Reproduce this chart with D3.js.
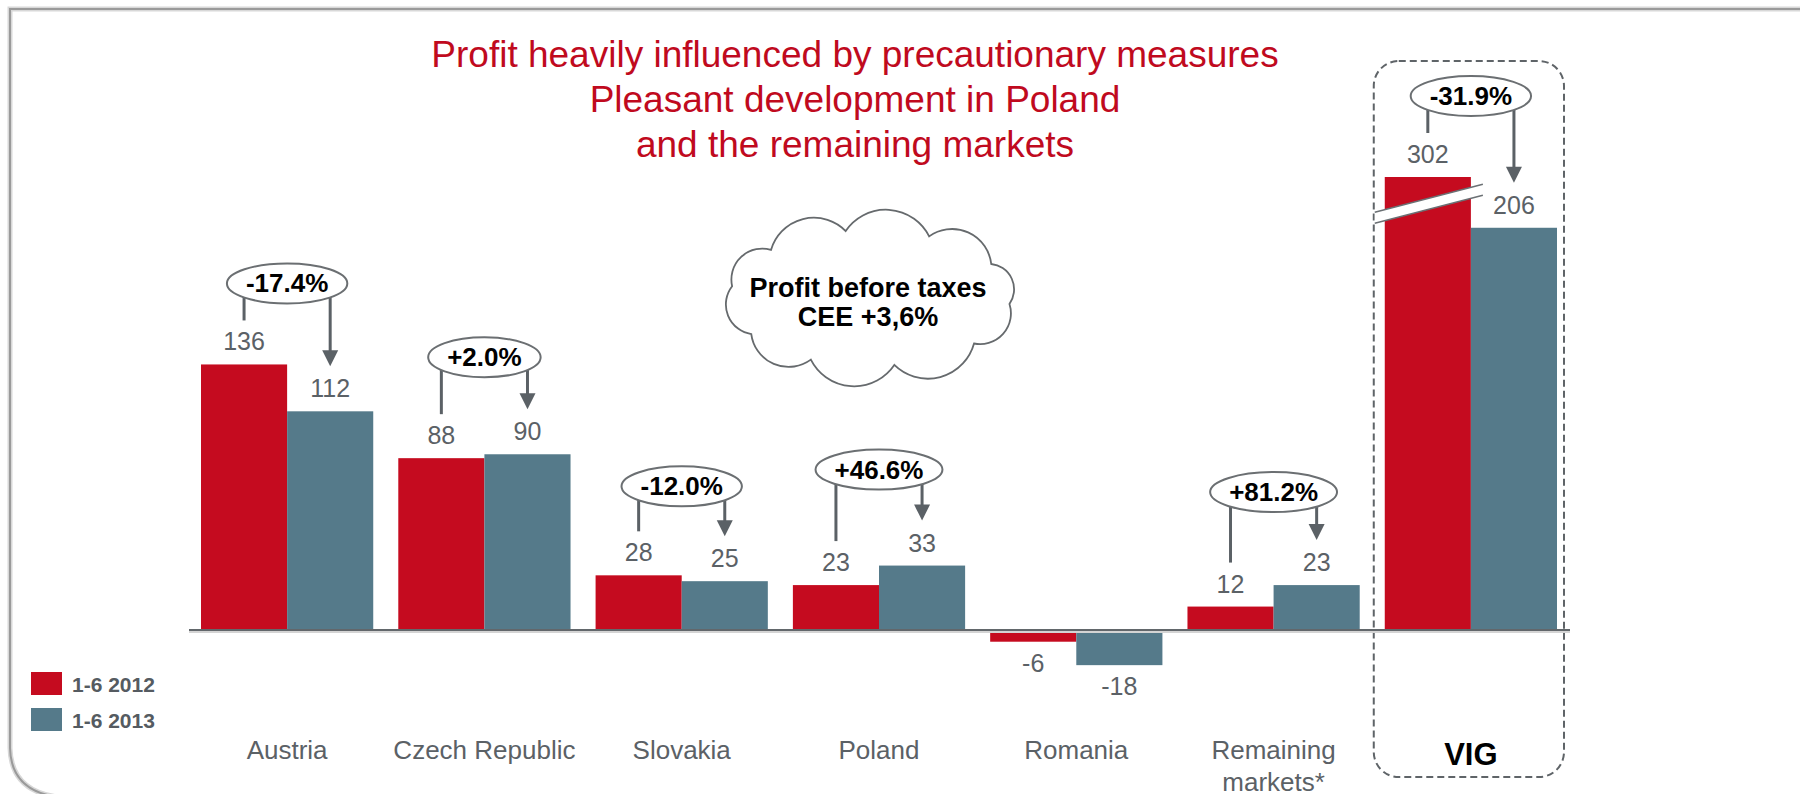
<!DOCTYPE html>
<html>
<head>
<meta charset="utf-8">
<script src="https://cdn.jsdelivr.net/npm/d3@7"></script>
<style>
  body { margin: 0; background: #fff; }
  svg { display: block; }
  text { font-family: "Liberation Sans", Arial, sans-serif; }
</style>
</head>
<body>
<svg id="chart"></svg>
<script>
// data
const categories = ["Austria", "Czech Republic", "Slovakia", "Poland", "Romania", "Remaining markets*", "VIG"];
const series = ["1-6 2012", "1-6 2013"];
const values2012 = [136, 88, 28, 23, -6, 12, 302];
const values2013 = [112, 90, 25, 33, -18, 23, 206];
const changeLabels = ["-17.4%", "+2.0%", "-12.0%", "+46.6%", null, "+81.2%", "-31.9%"];
const titleLines = ["Profit heavily influenced by precautionary measures", "Pleasant development in Poland", "and the remaining markets"];
const cloudLines = ["Profit before taxes", "CEE +3,6%"];

// layout
const width = 1800, height = 794;
const breakCap = 232;               // VIG 2012 bar is cut at this value (axis break)
const bubbleLift = [81, 97, 89, 96, 0, 93, 81];
const red = "#c50b1f", teal = "#557a8a", grey = "#5b6166";

const svg = d3.select("#chart").attr("width", width).attr("height", height);

// slide frame
svg.append("path")
  .attr("d", "M1800,9H10V748Q11,791 58,797")
  .attr("fill", "none").attr("stroke", "#d8d8d8").attr("stroke-width", 5);
svg.append("path")
  .attr("d", "M1800,9H10V748Q11,791 58,797")
  .attr("fill", "none").attr("stroke", "#9a9a9a").attr("stroke-width", 2);

// title
svg.append("g").selectAll("text").data(titleLines).join("text")
  .attr("x", 855).attr("y", (d, i) => 67 + i * 45)
  .attr("text-anchor", "middle").attr("font-size", 37).attr("fill", "#c00a1e")
  .text(d => d);

const x = d3.scaleBand().domain(categories).range([201, 1557]).paddingInner(0.127);
const x1 = d3.scaleBand().domain(series).range([0, x.bandwidth()]);
const y = d3.scaleLinear().domain([0, breakCap]).range([630, 177]);
const color = d3.scaleOrdinal().domain(series).range([red, teal]);
const shown = v => Math.min(v, breakCap);

const rows = categories.map((c, i) => ({
  cat: c, i,
  vals: [{ s: series[0], v: values2012[i] }, { s: series[1], v: values2013[i] }],
  change: changeLabels[i]
}));

// VIG dashed box
svg.append("rect")
  .attr("x", x("VIG") - 11).attr("y", 61)
  .attr("width", x.bandwidth() + 18).attr("height", 716)
  .attr("rx", 25).attr("ry", 25)
  .attr("fill", "none").attr("stroke", "#5f6468").attr("stroke-width", 2)
  .attr("stroke-dasharray", "7,4");

const groups = svg.append("g").selectAll("g").data(rows).join("g")
  .attr("transform", d => `translate(${x(d.cat)},0)`);

groups.selectAll("rect").data(d => d.vals).join("rect")
  .attr("x", d => x1(d.s))
  .attr("y", d => y(Math.max(0, shown(d.v))))
  .attr("width", x1.bandwidth())
  .attr("height", d => Math.abs(y(shown(d.v)) - y(0)))
  .attr("fill", d => color(d.s));

groups.selectAll("text.val").data(d => d.vals).join("text")
  .attr("class", "val")
  .attr("x", d => x1(d.s) + x1.bandwidth() / 2)
  .attr("y", d => d.v >= 0 ? y(shown(d.v)) - 14 : y(d.v) + 30)
  .attr("text-anchor", "middle").attr("font-size", 25).attr("fill", grey)
  .text(d => d.v);

// axis break on the VIG 2012 bar
{
  const bx = x("VIG") + x1(series[0]);
  const cx = bx + x1.bandwidth() / 2, cy = y(breakCap) + 27;
  const xa = bx - 10, xb = bx + x1.bandwidth() + 12, k = -0.26, h = 5.5;
  const ya = cy + k * (xa - cx), yb = cy + k * (xb - cx);
  svg.append("path")
    .attr("d", `M${xa},${ya - h}L${xb},${yb - h}L${xb},${yb + h}L${xa},${ya + h}Z`)
    .attr("fill", "#fff");
  [-h, h].forEach(o => svg.append("line")
    .attr("x1", xa).attr("y1", ya + o).attr("x2", xb).attr("y2", yb + o)
    .attr("stroke", "#6b7074").attr("stroke-width", 1.5));
}

// zero line
svg.append("line").attr("x1", 189).attr("x2", 1570).attr("y1", y(0) + 2).attr("y2", y(0) + 2)
  .attr("stroke", "#d4d4d4").attr("stroke-width", 2);
svg.append("line").attr("x1", 189).attr("x2", 1570).attr("y1", y(0)).attr("y2", y(0))
  .attr("stroke", "#62676b").attr("stroke-width", 2);

// change bubbles
const bub = groups.filter(d => d.change);
bub.each(function (d) {
  const g = d3.select(this);
  const t0 = y(shown(d.vals[0].v)), t1 = y(shown(d.vals[1].v));
  const cy = Math.min(t0, t1) - bubbleLift[d.i];
  const cx = x.bandwidth() / 2;
  const lx = x1(series[0]) + x1.bandwidth() / 2;
  const ax = x1(series[1]) + x1.bandwidth() / 2;
  const tip = t1 - 45;
  g.append("line").attr("x1", lx).attr("x2", lx).attr("y1", cy).attr("y2", t0 - 44)
    .attr("stroke", grey).attr("stroke-width", 3);
  g.append("line").attr("x1", ax).attr("x2", ax).attr("y1", cy).attr("y2", tip - 14)
    .attr("stroke", grey).attr("stroke-width", 3);
  g.append("path").attr("d", `M${ax - 8},${tip - 16}L${ax + 8},${tip - 16}L${ax},${tip}Z`)
    .attr("fill", grey);
  const ell = g.append("ellipse").attr("cx", cx).attr("cy", cy).attr("ry", 20)
    .attr("fill", "#fff").attr("stroke", "#6b6f72").attr("stroke-width", 2);
  const txt = g.append("text").attr("x", cx).attr("y", cy + 9)
    .attr("text-anchor", "middle").attr("font-size", 26).attr("font-weight", "bold")
    .attr("fill", "#000").text(d.change);
  ell.attr("rx", txt.node().getComputedTextLength() / 2 + 19);
});

// category labels
groups.each(function (d) {
  const g = d3.select(this);
  const isVig = d.cat === "VIG";
  const lines = d.cat === "Remaining markets*" ? ["Remaining", "markets*"] : [d.cat];
  g.selectAll("text.cat").data(lines).join("text").attr("class", "cat")
    .attr("x", x.bandwidth() / 2).attr("y", (l, j) => (isVig ? 765 : 759) + j * 32)
    .attr("text-anchor", "middle")
    .attr("font-size", isVig ? 31 : 26)
    .attr("font-weight", isVig ? "bold" : null)
    .attr("fill", isVig ? "#000" : grey)
    .text(l => l);
});

// legend
const leg = svg.append("g").selectAll("g").data(series).join("g")
  .attr("transform", (d, i) => `translate(31,${672 + i * 36})`);
leg.append("rect").attr("width", 31).attr("height", 23).attr("fill", d => color(d));
leg.append("text").attr("x", 41).attr("y", 20).attr("font-size", 21)
  .attr("font-weight", "bold").attr("fill", "#555b61").text(d => d);

// cloud callout
function cloudPath(cx, cy, rx, ry, angles) {
  const pts = angles.map(a => [cx + rx * Math.cos(a * Math.PI / 180), cy + ry * Math.sin(a * Math.PI / 180)]);
  let p = `M${pts[0][0]},${pts[0][1]}`;
  for (let i = 1; i <= pts.length; i++) {
    const a = pts[i - 1], b = pts[i % pts.length];
    const r = Math.hypot(b[0] - a[0], b[1] - a[1]) * 0.58;
    p += `A${r},${r} 0 0 1 ${b[0]},${b[1]}`;
  }
  return p + "Z";
}
svg.append("path")
  .attr("d", cloudPath(870, 298, 140, 68, [-170, -135, -100, -65, -30, 5, 42, 80, 115, 148]))
  .attr("fill", "#fff").attr("stroke", "#666a6d").attr("stroke-width", 1.8);
svg.append("g").selectAll("text").data(cloudLines).join("text")
  .attr("x", 868).attr("y", (d, i) => 297 + i * 29)
  .attr("text-anchor", "middle").attr("font-size", 27).attr("font-weight", "bold")
  .attr("fill", "#000").text(d => d);
</script>
</body>
</html>
